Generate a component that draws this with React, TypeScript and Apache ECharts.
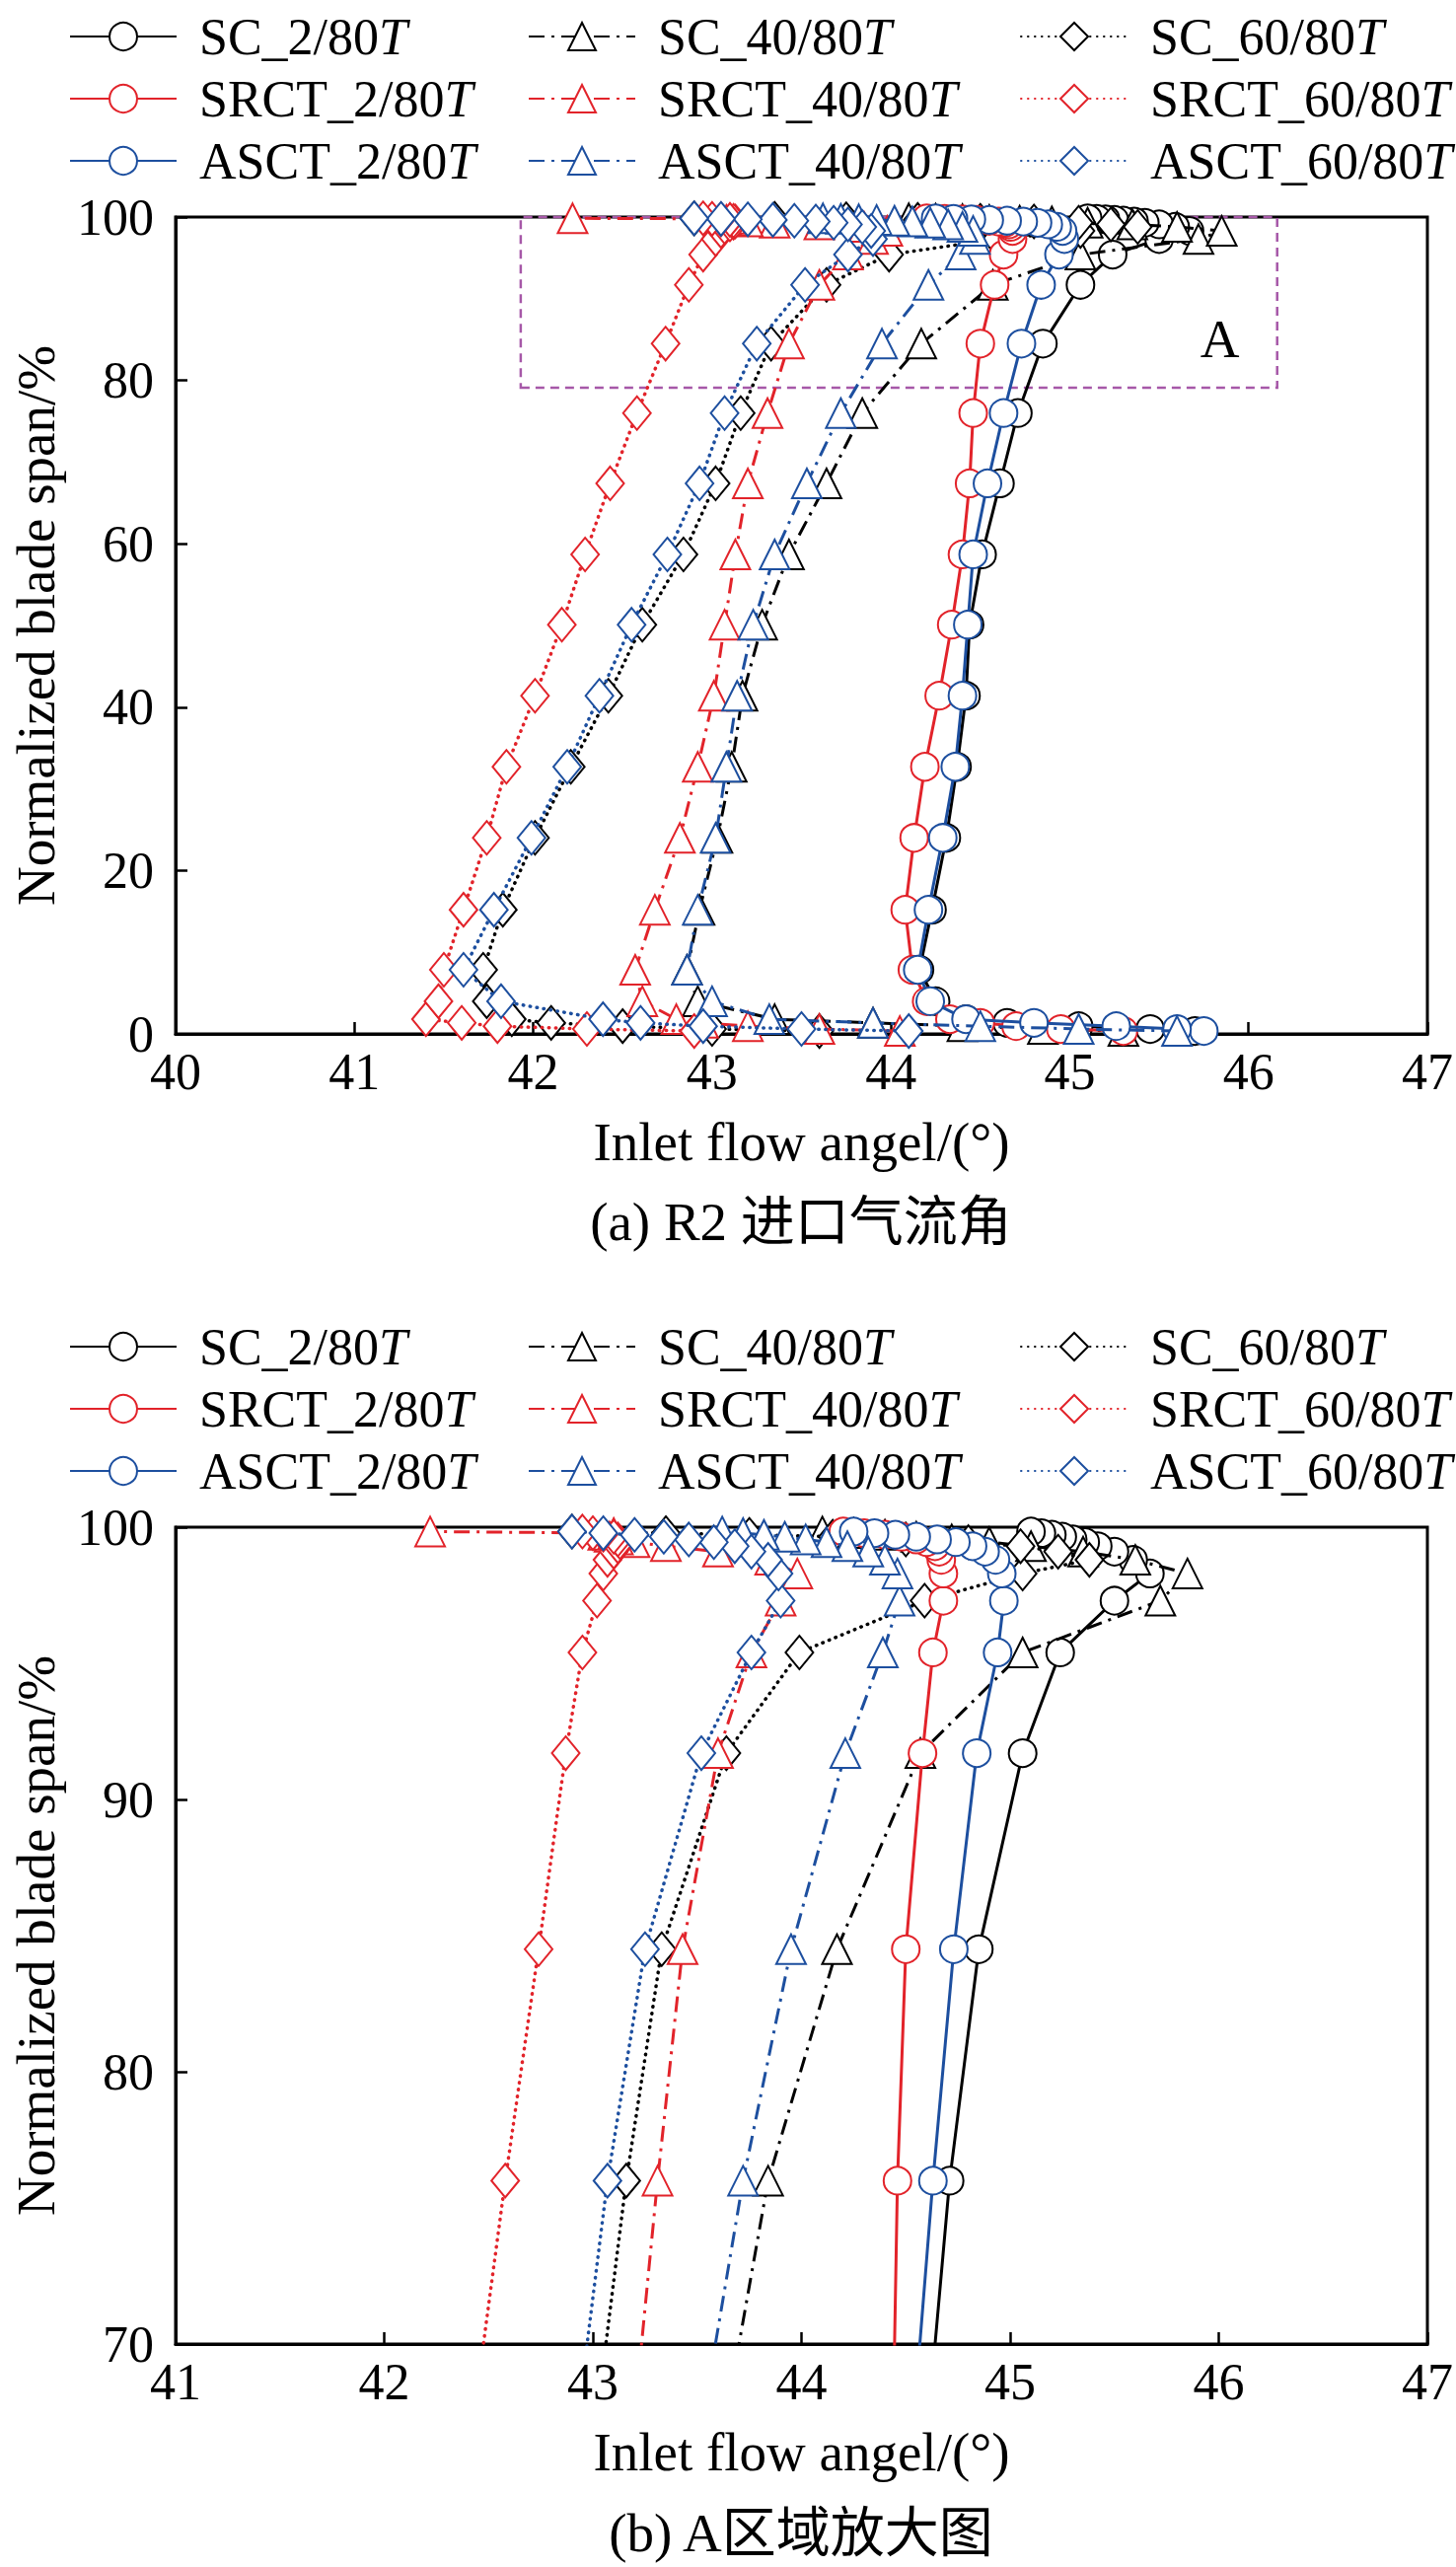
import React, { useEffect, useRef } from 'react';
import * as echarts from 'echarts';

// Normalized blade span (%) shared by all series (hub -> tip)
const span = [0.35, 0.6, 0.95, 1.35, 1.8, 4.0, 7.85, 15.2, 24.0, 32.7, 41.4, 50.1, 58.7, 67.4, 76.0, 84.5,
  91.7, 95.4, 97.3, 98.3, 98.8, 99.1, 99.3, 99.45, 99.55, 99.65, 99.72, 99.78, 99.84];

// Inlet flow angle (deg) for each case
const sc2 = [45.7, 45.45, 45.05, 44.65, 44.42, 44.25, 44.16, 44.23, 44.31, 44.37, 44.42, 44.44, 44.51, 44.61, 44.71, 44.85,
  45.06, 45.24, 45.5, 45.67, 45.59, 45.5, 45.42, 45.36, 45.3, 45.25, 45.2, 45.15, 45.1];
const srct2 = [45.3, 44.95, 44.7, 44.5, 44.33, 44.2, 44.12, 44.08, 44.13, 44.19, 44.27, 44.34, 44.4, 44.44, 44.46, 44.5,
  44.58, 44.63, 44.68, 44.68, 44.67, 44.66, 44.64, 44.6, 44.55, 44.48, 44.4, 44.3, 44.2];
const asct2 = [45.75, 45.6, 45.26, 44.8, 44.42, 44.22, 44.15, 44.21, 44.29, 44.36, 44.4, 44.43, 44.46, 44.54, 44.63, 44.73,
  44.84, 44.94, 44.97, 44.96, 44.93, 44.88, 44.82, 44.74, 44.65, 44.55, 44.45, 44.35, 44.25];
const sc40 = [45.3, 44.85, 44.4, 43.9, 43.35, 42.92, 42.86, 42.93, 43.03, 43.11, 43.17, 43.28, 43.43, 43.64, 43.84, 44.17,
  44.57, 45.06, 45.72, 45.85, 45.6, 45.35, 45.1, 44.9, 44.72, 44.55, 44.4, 44.25, 44.1];
const srct40 = [44.05, 43.6, 43.2, 42.95, 42.8, 42.61, 42.57, 42.68, 42.82, 42.92, 43.01, 43.07, 43.13, 43.2, 43.31, 43.43,
  43.6, 43.76, 43.9, 43.98, 43.85, 43.6, 43.35, 43.2, 43.12, 43.08, 43.05, 43.1, 42.22];
const asct40 = [45.6, 45.05, 44.5, 43.9, 43.32, 43.0, 42.86, 42.92, 43.02, 43.08, 43.14, 43.23, 43.35, 43.53, 43.72, 43.95,
  44.21, 44.39, 44.47, 44.46, 44.4, 44.32, 44.22, 44.12, 44.02, 43.92, 43.82, 43.72, 43.62];
const sc60 = [43.6, 43.0, 42.5, 42.1, 41.88, 41.74, 41.72, 41.83, 42.01, 42.21, 42.42, 42.61, 42.84, 43.02, 43.16, 43.33,
  43.64, 43.99, 44.59, 45.06, 45.38, 45.23, 45.05, 44.8, 44.5, 44.15, 43.75, 43.35, 42.9];
const srct60 = [42.9, 42.3, 41.8, 41.6, 41.4, 41.47, 41.5, 41.61, 41.74, 41.85, 42.01, 42.16, 42.29, 42.43, 42.58, 42.74,
  42.87, 42.95, 43.02, 43.05, 43.07, 43.1, 43.12, 43.13, 43.12, 43.1, 43.05, 43.0, 42.95];
const asct60 = [44.1, 43.5, 42.95, 42.6, 42.39, 41.82, 41.61, 41.78, 41.99, 42.19, 42.37, 42.55, 42.75, 42.93, 43.07, 43.25,
  43.52, 43.76, 43.9, 43.89, 43.84, 43.76, 43.68, 43.58, 43.46, 43.34, 43.2, 43.05, 42.9];

// Axis ranges [min, max, interval]
const topX = [40, 47, 1];
const topY = [0, 100, 20];
const botX = [41, 47, 1];
const botY = [70, 100, 10];

// Region A (zoomed area) and its label
const regionAX = [41.93, 46.16];
const regionAY = [79.1, 100];
const labelA = [45.84, 85.1];

const legendCols = [
  ['SC_2/80T', 'SRCT_2/80T', 'ASCT_2/80T'],
  ['SC_40/80T', 'SRCT_40/80T', 'ASCT_40/80T'],
  ['SC_60/80T', 'SRCT_60/80T', 'ASCT_60/80T'],
];

const xName = 'Inlet flow angel/(°)';
const yName = 'Normalized blade span/%';
const captions = ['(a) R2 进口气流角', '(b) A区域放大图'];

const FONT = 'Liberation Serif, Times New Roman, Noto Sans CJK SC, serif';
const BLACK = '#000000';
const RED = '#e2232a';
const BLUE = '#1d4f9f';

const LINE_TYPES: Record<string, any> = {
  solid: 'solid',
  dashdot: [16, 7, 3, 7],
  dot: [0.5, 6.5],
};

const defs = [
  { name: 'SC_2/80T', vals: sc2, color: BLACK, symbol: 'emptyCircle', size: 28, kind: 'solid' },
  { name: 'SC_40/80T', vals: sc40, color: BLACK, symbol: 'emptyTriangle', size: 30, kind: 'dashdot' },
  { name: 'SC_60/80T', vals: sc60, color: BLACK, symbol: 'emptyDiamond', size: [28, 34], kind: 'dot' },
  { name: 'SRCT_2/80T', vals: srct2, color: RED, symbol: 'emptyCircle', size: 28, kind: 'solid' },
  { name: 'SRCT_40/80T', vals: srct40, color: RED, symbol: 'emptyTriangle', size: 30, kind: 'dashdot' },
  { name: 'SRCT_60/80T', vals: srct60, color: RED, symbol: 'emptyDiamond', size: [28, 34], kind: 'dot' },
  { name: 'ASCT_2/80T', vals: asct2, color: BLUE, symbol: 'emptyCircle', size: 28, kind: 'solid' },
  { name: 'ASCT_40/80T', vals: asct40, color: BLUE, symbol: 'emptyTriangle', size: 30, kind: 'dashdot' },
  { name: 'ASCT_60/80T', vals: asct60, color: BLUE, symbol: 'emptyDiamond', size: [28, 34], kind: 'dot' },
];

const GRIDS = [
  { left: 178, top: 220, width: 1271, height: 828 },
  { left: 178, top: 1548, width: 1271, height: 828 },
];
const LEGEND_TOPS = [9, 1337];
const LEGEND_LEFTS = [70, 535, 1034];
const CAPTION_Y = [1238, 2567];
const CAPTION_X = 812;

const TEXT = { fontSize: 52, fontFamily: FONT, color: '#000' };
const NAME_TEXT = { fontSize: 55, fontFamily: FONT, color: '#000' };

function makeXAxis(gi: number, r: number[]) {
  return {
    type: 'value', gridIndex: gi, min: r[0], max: r[1], interval: r[2],
    axisLine: { show: true, onZero: false, lineStyle: { color: '#000', width: 3 } },
    axisTick: { show: true, inside: true, length: 12, lineStyle: { color: '#000', width: 2.5 } },
    axisLabel: { ...TEXT, margin: 12 },
    splitLine: { show: false },
    name: xName, nameLocation: 'middle', nameGap: 82,
    nameTextStyle: { ...NAME_TEXT },
  };
}

function makeYAxis(gi: number, r: number[]) {
  return {
    type: 'value', gridIndex: gi, min: r[0], max: r[1], interval: r[2],
    axisLine: { show: true, onZero: false, lineStyle: { color: '#000', width: 3 } },
    axisTick: { show: true, inside: true, length: 12, lineStyle: { color: '#000', width: 2.5 } },
    axisLabel: { ...TEXT, margin: 22 },
    splitLine: { show: false },
    name: yName, nameLocation: 'middle', nameGap: 114,
    nameTextStyle: { ...NAME_TEXT },
  };
}

function buildOption() {
  const series: any[] = [];
  [0, 1].forEach((gi) => {
    defs.forEach((d, k) => {
      const s: any = {
        type: 'line',
        name: d.name,
        xAxisIndex: gi,
        yAxisIndex: gi,
        data: d.vals.map((v, i) => [v, span[i]]),
        symbol: d.symbol,
        symbolSize: d.size,
        showSymbol: true,
        showAllSymbol: true,
        clip: true,
        smooth: false,
        lineStyle: {
          color: d.color,
          width: d.kind === 'dot' ? 3.5 : 3,
          type: LINE_TYPES[d.kind],
          cap: d.kind === 'dot' ? 'round' : 'butt',
        },
        itemStyle: { color: d.color, borderWidth: 3 },
        emphasis: { disabled: true },
        z: 2 + k,
      };
      if (gi === 0 && k === 0) {
        s.markArea = {
          silent: true,
          itemStyle: { color: 'rgba(0,0,0,0)', borderColor: '#a658a8', borderWidth: 2.5, borderType: [9, 6] },
          label: { show: false },
          data: [[{ coord: [regionAX[0], regionAY[0]] }, { coord: [regionAX[1], regionAY[1]] }]],
        };
        s.markPoint = {
          silent: true,
          symbol: 'circle',
          symbolSize: 1,
          itemStyle: { color: 'rgba(0,0,0,0)' },
          label: { show: true, formatter: 'A', position: 'inside', ...NAME_TEXT },
          data: [{ coord: labelA }],
        };
      }
      series.push(s);
    });
  });

  const legends: any[] = [];
  LEGEND_TOPS.forEach((top) => {
    legendCols.forEach((col, ci) => {
      legends.push({
        orient: 'vertical',
        left: LEGEND_LEFTS[ci],
        top,
        padding: 0,
        itemGap: 7,
        itemWidth: 108,
        itemHeight: 35,
        selectedMode: false,
        data: col,
        formatter: (name: string) => `{s| }{a|${name.slice(0, -1)}}{b|T}`,
        textStyle: {
          ...TEXT,
          lineHeight: 56,
          rich: {
            s: { width: 18, fontSize: 52, lineHeight: 56 },
            a: { ...TEXT, lineHeight: 56 },
            b: { ...TEXT, fontStyle: 'italic', lineHeight: 56 },
          },
        },
      });
    });
  });

  const graphic = captions.map((t, i) => ({
    type: 'text',
    x: CAPTION_X,
    y: CAPTION_Y[i],
    silent: true,
    style: {
      text: t,
      fontSize: 55,
      fontFamily: FONT,
      fill: '#000',
      textAlign: 'center',
      textVerticalAlign: 'middle',
    },
  }));

  return {
    animation: false,
    backgroundColor: '#ffffff',
    textStyle: { fontFamily: FONT },
    grid: GRIDS.map((g) => ({ ...g, show: true, borderColor: '#000', borderWidth: 3, backgroundColor: 'rgba(0,0,0,0)', containLabel: false })),
    xAxis: [makeXAxis(0, topX), makeXAxis(1, botX)],
    yAxis: [makeYAxis(0, topY), makeYAxis(1, botY)],
    legend: legends,
    graphic,
    series,
  };
}

export default function App() {
  const ref = useRef<HTMLDivElement>(null);
  useEffect(() => {
    if (!ref.current) return;
    const chart = echarts.init(ref.current, null, { renderer: 'svg' });
    chart.setOption(buildOption() as any);
    return () => chart.dispose();
  }, []);
  return (
    <div
      ref={ref}
      style={{ position: 'absolute', left: 0, top: 0, width: 1476, height: 2602, background: '#fff' }}
    />
  );
}
